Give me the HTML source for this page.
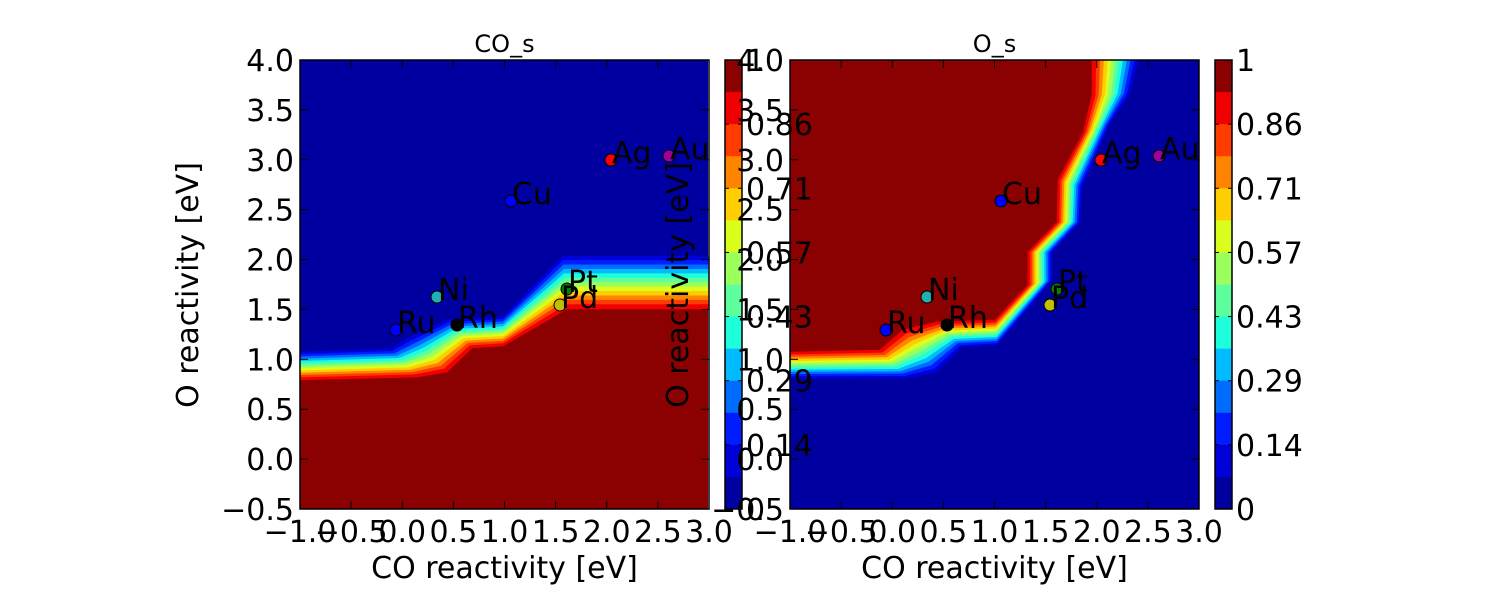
<!DOCTYPE html>
<html><head><meta charset="utf-8"><style>
html,body{margin:0;padding:0;background:#fff;width:1500px;height:600px;overflow:hidden}
svg text{font-family:"DejaVu Sans","Liberation Sans",sans-serif;fill:#000}
</style></head><body>
<svg id="s" width="1500" height="600" xmlns="http://www.w3.org/2000/svg"></svg>
<script>
const S=document.getElementById('s');
let h='';
const cols=['#0000a0','#0000d9','#001dff','#006cff','#00bbff','#1dffda','#5cff9b','#9bff5c','#daff1d','#ffce00','#ff8500','#ff3c00','#f00000','#8b0000'];
function interp(A,B,t){return A.map((p,i)=>[p[0]+(B[i][0]-p[0])*t,p[1]+(B[i][1]-p[1])*t]);}
function pts(a){return a.map(p=>p[0].toFixed(1)+','+p[1].toFixed(1)).join(' ');}
function bands(A,B){
  let o='';
  const n=12;
  for(let i=0;i<n;i++){
    const t0=i/n,t1=(i+1)/n;
    const P=interp(A,B,t0),Q=interp(A,B,t1);
    o+=`<polygon points="${pts(P)} ${pts(Q.slice().reverse())}" fill="${cols[i+1]}" stroke="${cols[i+1]}" stroke-width="0.6"/>`;
  }
  return o;
}
h+=`<rect x="300" y="60" width="408" height="449" fill="#8b0000"/>`;
let A1=[[300,352],[390,349],[410,337],[447,320],[503,317],[563,256],[708,256]];
let B1=[[300,380],[417,377],[447,372],[472,348],[503,346],[567,309],[708,309]];
h+=`<polygon points="300,60 708,60 ${pts(A1.slice().reverse())}" fill="#0000a0"/>`;
h+=bands(A1,B1);
let A2=[[791,378],[907,378],[937,372],[962,347],[997,345],[1052,280],[1052,252],[1080,222],[1082,187],[1110,123],[1130,93],[1138,60]];
let B2=[[791,352],[880,350],[903,330],[937,322],[995,320],[1028,285],[1028,252],[1057,222],[1058,180],[1083,133],[1092,95],[1092,60]];
h+=`<rect x="790" y="60" width="409" height="449" fill="#0000a0"/>`;
h+=`<polygon points="790,60 ${pts(B2.slice().reverse())}" fill="#8b0000"/>`;
h+=bands(A2,B2);
for(const cx of [725,1215]){
  for(let i=0;i<14;i++){
    h+=`<rect x="${cx}" y="${60+i*449/14}" width="17" height="${449/14+0.5}" fill="${cols[13-i]}"/>`;
  }
  h+=`<rect x="${cx}" y="60" width="17" height="449" fill="none" stroke="#000" stroke-width="1.5"/>`;
  const labs=['1','0.86','0.71','0.57','0.43','0.29','0.14','0'];
  labs.forEach((l,i)=>{const y=60+i*449/7;
    h+=`<line x1="${cx}" y1="${y}" x2="${cx+4}" y2="${y}" stroke="#000"/><line x1="${cx+17}" y1="${y}" x2="${cx+13}" y2="${y}" stroke="#000"/>`;
    h+=`<text x="${cx+21}" y="${y+11}" font-size="30">${l}</text>`;});
}
function axes(x0,title){
  const w=409,y0=60,hh=449;
  let o=`<rect x="${x0}" y="${y0}" width="${w}" height="${hh}" fill="none" stroke="#000" stroke-width="1.5"/>`;
  const xl=['\u22121.0','\u22120.5','0.0','0.5','1.0','1.5','2.0','2.5','3.0'];
  xl.forEach((l,i)=>{const x=x0+i*w/8;
    o+=`<line x1="${x}" y1="${y0+hh}" x2="${x}" y2="${y0+hh-8}" stroke="#000"/><line x1="${x}" y1="${y0}" x2="${x}" y2="${y0+8}" stroke="#000"/>`;
    o+=`<text x="${x}" y="542" font-size="30" text-anchor="middle">${l}</text>`;});
  const yl=['4.0','3.5','3.0','2.5','2.0','1.5','1.0','0.5','0.0','\u22120.5'];
  yl.forEach((l,i)=>{const y=y0+i*hh/9;
    o+=`<line x1="${x0}" y1="${y}" x2="${x0+8}" y2="${y}" stroke="#000"/><line x1="${x0+w}" y1="${y}" x2="${x0+w-8}" y2="${y}" stroke="#000"/>`;
    o+=`<text x="${x0-6}" y="${y+11}" font-size="30" text-anchor="end">${l}</text>`;});
  o+=`<text x="${x0+w/2}" y="578" font-size="30" text-anchor="middle">CO reactivity [eV]</text>`;
  o+=`<text transform="translate(${x0-102},285) rotate(-90)" font-size="30" text-anchor="middle">O reactivity [eV]</text>`;
  o+=`<text x="${x0+w/2}" y="52" font-size="24" text-anchor="middle">${title}</text>`;
  return o;
}
h+=axes(300,'CO_s');
h+=axes(790,'O_s');
const P=[['Ru',396,330,'#0000ff'],['Ni',437,297,'#20b0b0'],['Rh',457,325,'#000'],['Cu',511,201,'#0000ff'],
['Pt',567,289,'#008000'],['Pd',560,305,'#c0c000'],['Ag',611,160,'#ff0000'],['Au',669,156,'#a000a0']];
for(const off of [0,490]){
  P.forEach(p=>{h+=`<circle cx="${p[1]+off}" cy="${p[2]}" r="6" fill="${p[3]}" stroke="#000" stroke-width="1"/>`;});
  P.forEach(p=>{h+=`<text x="${p[1]+off+1}" y="${p[2]+3}" font-size="30">${p[0]}</text>`;});
}
S.innerHTML=h;
</script>
</body></html>
